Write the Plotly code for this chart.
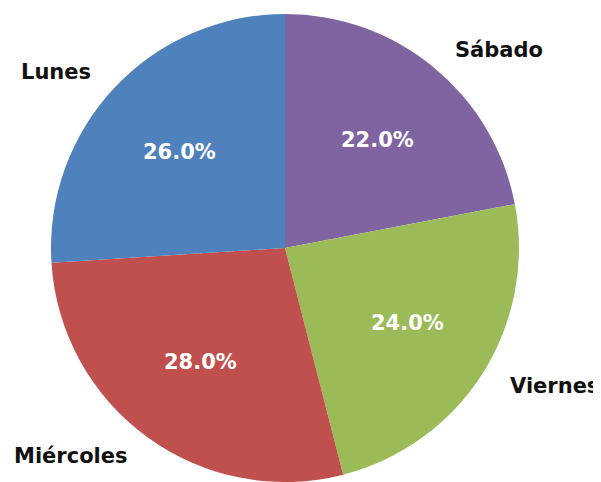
import numpy as np
import plotly.graph_objects as go

labels = ["Lunes", "Miércoles", "Viernes", "Sábado"]
values = [26, 28, 24, 22]
colors = ["#4F81BD", "#C0504D", "#9BBB59", "#8064A2"]

# the page body has an 8px margin: lay the figure out in window pixels minus 8
OFF = 8
W, H = 601 - OFF, 482 - OFF
cx, cy = 285 - OFF, 248 - OFF   # pie centre in figure px (from top-left)
R = 234                         # pie radius in px

# draw counter-clockwise from 12 o'clock (== clockwise with reversed order)
fig = go.Figure()
fig.add_trace(go.Pie(
    labels=labels[::-1], values=values[::-1], sort=False,
    direction="clockwise", rotation=0,
    marker=dict(colors=colors[::-1], line=dict(width=0)),
    textinfo="none", hoverinfo="label+percent", showlegend=False,
    domain=dict(x=[(cx - R) / W, (cx + R) / W],
                y=[max(0, (H - cy - R) / H), min(1, (H - cy + R) / H)]),
))

# label positions like matplotlib (labeldistance=1.1, pctdistance=0.6)
vals = np.array(values, dtype=float)
frac = vals / vals.sum()
start = np.deg2rad(90) + 2 * np.pi * np.concatenate([[0], np.cumsum(frac)[:-1]])
mid = start + np.pi * frac
Rx, Ry = 241, 234
font_lbl = dict(family="DejaVu Sans", size=21, color="#111111")
font_pct = dict(family="DejaVu Sans", size=21, color="white")
for lab, f, a in zip(labels, frac, mid):
    lx = cx + 1.1 * Rx * np.cos(a)
    ly = cy - 1.1 * Ry * np.sin(a)
    fig.add_annotation(x=lx / W, y=1 - ly / H, xref="paper", yref="paper",
                       text="<b>%s</b>" % lab, showarrow=False,
                       xanchor="left" if np.cos(a) > 0 else "right", yanchor="middle",
                       font=font_lbl, borderpad=0)
    px = cx + 0.6 * Rx * np.cos(a)
    py = cy - 0.6 * Ry * np.sin(a)
    fig.add_annotation(x=px / W, y=1 - py / H, xref="paper", yref="paper",
                       text="<b>%.1f%%</b>" % (f * 100), showarrow=False,
                       xanchor="center", yanchor="middle", font=font_pct, borderpad=0)

fig.update_layout(width=W, height=H, margin=dict(l=0, r=0, t=0, b=0),
                  paper_bgcolor="white", plot_bgcolor="white")
fig.write_html("out.html")
